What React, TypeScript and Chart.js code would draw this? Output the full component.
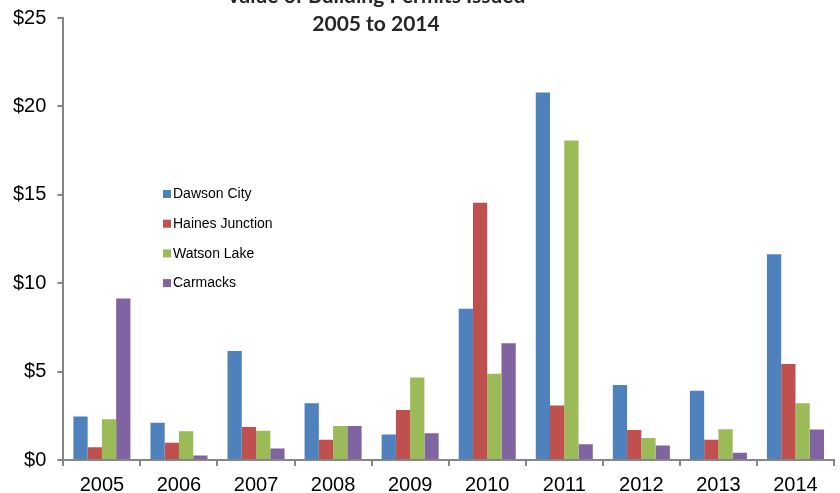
import React, { useEffect, useRef } from "react";
import { Chart, registerables } from "chart.js";

Chart.register(...registerables);

const years = ["2005", "2006", "2007", "2008", "2009", "2010", "2011", "2012", "2013", "2014"];
const dawsonCity = [2.46, 2.1, 6.16, 3.21, 1.44, 8.55, 20.78, 4.24, 3.91, 11.64];
const hainesJunction = [0.72, 0.97, 1.87, 1.14, 2.83, 14.55, 3.08, 1.7, 1.14, 5.43];
const watsonLake = [2.31, 1.63, 1.66, 1.93, 4.67, 4.88, 18.07, 1.25, 1.74, 3.21];
const carmacks = [9.14, 0.25, 0.65, 1.93, 1.51, 6.61, 0.89, 0.82, 0.41, 1.72];
const titleLines = ["Value of Building Permits Issued", "2005 to 2014"];

const seriesNames = ["Dawson City", "Haines Junction", "Watson Lake", "Carmacks"];
const seriesColors = ["#4F81BD", "#C0504D", "#9BBB59", "#8064A2"];
const seriesData = [dawsonCity, hainesJunction, watsonLake, carmacks];

const titlePlugin = {
  id: "customTitle",
  afterDraw(chart: any) {
    const ctx = chart.ctx;
    ctx.save();
    ctx.fillStyle = "#262626";
    ctx.font = "bold 21px Lato";
    ctx.textAlign = "center";
    ctx.textBaseline = "alphabetic";
    ctx.fillText(titleLines[0], 376, 3);
    ctx.fillText(titleLines[1], 376, 31);
    ctx.restore();
  },
};

const legendPlugin = {
  id: "insideLegend",
  afterDraw(chart: any) {
    const ctx = chart.ctx;
    ctx.save();
    ctx.font = "14px 'Liberation Sans', Arial";
    ctx.textBaseline = "middle";
    ctx.textAlign = "left";
    chart.data.datasets.forEach((ds: any, i: number) => {
      const cy = 194 + i * 29.7;
      ctx.fillStyle = ds.backgroundColor;
      ctx.fillRect(163, cy - 4, 8, 8);
      ctx.fillStyle = "#000";
      ctx.fillText(ds.label, 173, cy + 0.5);
    });
    ctx.restore();
  },
};

export default function App() {
  const ref = useRef<HTMLCanvasElement | null>(null);
  useEffect(() => {
    if (!ref.current) return;
    const chart = new Chart(ref.current, {
      type: "bar",
      data: {
        labels: years,
        datasets: seriesNames.map((name, i) => ({
          label: name,
          data: seriesData[i],
          backgroundColor: seriesColors[i],
          borderWidth: 0,
          categoryPercentage: 0.74,
          barPercentage: 1,
        })),
      },
      options: {
        responsive: false,
        animation: false,
        layout: { padding: { left: 2, right: 6, top: 0, bottom: -11 } },
        plugins: {
          legend: { display: false },
          title: { display: false },
          tooltip: { enabled: false },
        },
        scales: {
          x: {
            grid: {
              display: true,
              drawOnChartArea: false,
              drawTicks: true,
              tickLength: 6,
              color: "#868686",
              lineWidth: 2,
            },
            border: { display: true, color: "#868686", width: 2 },
            ticks: {
              color: "#000",
              font: { family: "'Liberation Sans', Arial", size: 20, lineHeight: 1 },
              padding: 9,
              maxRotation: 0,
            },
          },
          y: {
            min: 0,
            max: 25,
            grid: {
              display: true,
              drawOnChartArea: false,
              drawTicks: true,
              tickLength: 6,
              color: "#868686",
              lineWidth: 2,
            },
            border: { display: true, color: "#868686", width: 2 },
            ticks: {
              stepSize: 5,
              color: "#000",
              font: { family: "'Liberation Sans', Arial", size: 20, lineHeight: 0.7 },
              padding: 11,
              callback: (v: any) => "$" + v,
            },
          },
        },
      },
      plugins: [titlePlugin, legendPlugin],
    });
    return () => chart.destroy();
  }, []);
  return (
    <div style={{ position: "absolute", left: 0, top: 0, width: 840, height: 493 }}>
      <canvas ref={ref} width={840} height={493} style={{ display: "block" }} />
    </div>
  );
}
